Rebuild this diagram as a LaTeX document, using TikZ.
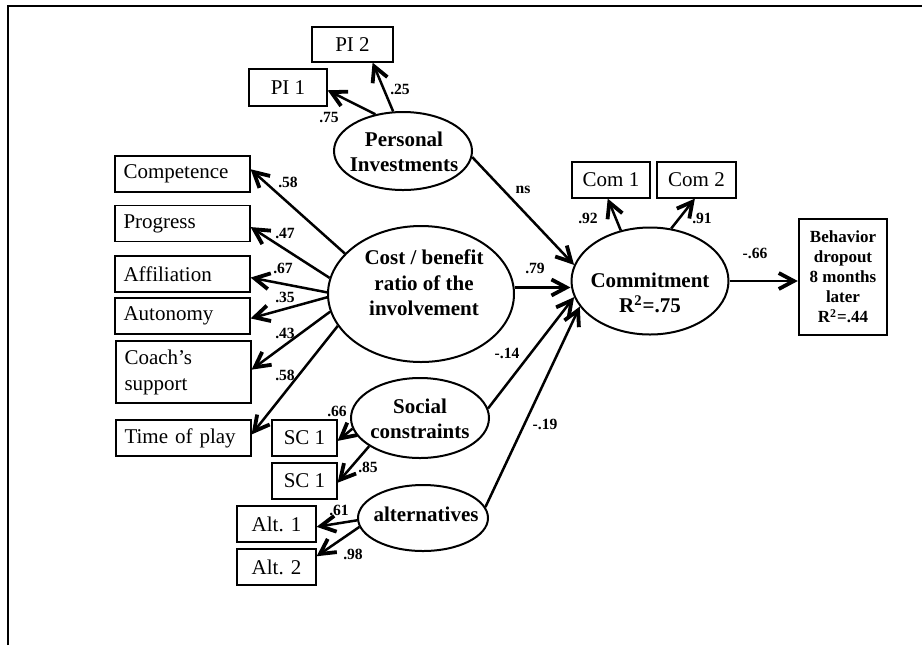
\documentclass[tikz,border=0pt]{standalone}
\usepackage{fontspec}
\setmainfont{Liberation Serif}
\usetikzlibrary{arrows.meta,shapes.geometric}

\begin{document}
\begin{tikzpicture}[x=0.5pt,y=-0.5pt,
  box/.style={draw, line width=0.6pt, inner sep=0pt, minimum height=18pt,
    align=center, font=\fontsize{10.5}{13}\selectfont},
  leftbox/.style={box, align=left, inner xsep=4.2pt, text width=59pt, minimum width=67.5pt},
  latent/.style={draw, ellipse, line width=1pt, inner sep=0pt},
  lattext/.style={align=center, inner sep=0pt, font=\fontsize{10.5}{12.8}\selectfont\bfseries},
  coef/.style={inner sep=0pt, font=\fontsize{7.8}{9}\selectfont\bfseries},
  arr/.style={line width=1.25pt, -{Straight Barb[length=7.5pt,width=8pt,line width=1.9pt]}},
]
\useasboundingbox (0,0) rectangle (922,645);

% frame
\draw[line width=1pt] (8,645) -- (8,6) -- (922,6);

% latent variables
\node[latent, minimum width=69pt, minimum height=39pt] (pi) at (403,151) {};
\node[latent, minimum width=93pt, minimum height=68pt] (cost) at (421,294) {};
\node[latent, minimum width=78.5pt, minimum height=53.5pt] (com) at (650,281) {};
\node[latent, minimum width=69pt, minimum height=40pt] (soc) at (420,418) {};
\node[latent, minimum width=65pt, minimum height=33pt] (alt) at (423,518) {};

\node[lattext] (pitext) at (404,152) {Personal\\Investments};
\node[lattext] (costtext) at (424,283) {Cost / benefit\\ratio of the\\involvement};
\node[lattext] (comtext) at (650,293) {Commitment\\R\textsuperscript{2}=.75};
\node[lattext] (soctext) at (420,419) {Social\\constraints};
\node[lattext] (alttext) at (426,514) {alternatives};

% indicators
\node[box, minimum width=40.5pt, minimum height=17.5pt] (pi2) at (352.5,44.5) {PI 2};
\node[box, minimum width=39pt, minimum height=18.5pt] (pi1) at (288,87.5) {PI 1};
\node[leftbox] (comp) at (182.5,174) {Competence};
\node[leftbox] (prog) at (182.5,223.5) {Progress};
\node[leftbox] (aff) at (182.5,274) {Affiliation};
\node[leftbox] (auto) at (182.5,316) {Autonomy};
\node[leftbox, minimum height=31pt] (coach) at (183.5,372) {Coach’s\\support};
\node[leftbox] (time) at (183.5,438) {Time of play};
\node[box, minimum width=32.5pt] (sca) at (304.5,438) {SC 1};
\node[box, minimum width=32.5pt] (scb) at (304.5,481) {SC 1};
\node[box, minimum width=39.5pt] (alta) at (276.5,524) {Alt. 1};
\node[box, minimum width=39.5pt] (altb) at (276.5,567) {Alt. 2};
\node[box, minimum width=39pt] (com1) at (611,180) {Com 1};
\node[box, minimum width=39.5pt] (com2) at (696.5,180) {Com 2};

% outcome
\node[draw, line width=1.2pt, minimum width=44pt, minimum height=58pt, inner sep=0pt,
  align=center, font=\fontsize{8.5}{10}\selectfont\bfseries] (beh) at (843,277)
  {Behavior\\dropout\\8 months\\later\\R\textsuperscript{2}=.44};

% loadings
\draw[arr] (pi.104) -- (pi2.-42);
\draw[arr] (pi.127) -- (pi1.-4);
\draw[arr] (cost.152) -- (comp.4);
\draw[arr] (cost.170) -- (prog.-3);
\draw[arr] (cost.179) -- (aff.-3);
\draw[arr] (cost.182) -- (auto.-2);
\draw[arr] (cost.191) -- (coach.2);
\draw[arr] (cost.201) -- (time.3);
\draw[arr] (soc.189) -- (sca.-5);
\draw[arr] (soc.209) -- (scb.-3);
\draw[arr] (alt.182) -- (alta.-4);
\draw[arr] (alt.188) -- (altb.15);
\draw[arr] (com.120) -- (com1.-100);
\draw[arr] (com.68) -- (com2.-95);

% structural paths
\draw[arr] (pi.-5) -- (com.168);
\draw[arr] (cost.4) -- (cost.4 -| com.west);
\draw[arr] (soc.8) -- (com.192);
\draw[arr] (alt.10) -- (com.200);
\draw[arr] (com.east) -- (com.east -| beh.west);

% coefficients
\node[coef] (k1) at (400,89) {.25};
\node[coef] (k2) at (329,117) {.75};
\node[coef] (k3) at (523,190) {ns};
\node[coef] (k4) at (535,268) {.79};
\node[coef] (k5) at (507,353) {-.14};
\node[coef] (k6) at (545,424) {-.19};
\node[coef] (k7) at (288,182) {.58};
\node[coef] (k8) at (285,233) {.47};
\node[coef] (k9) at (283,268) {.67};
\node[coef] (k10) at (285,297) {.35};
\node[coef] (k11) at (285,333) {.43};
\node[coef] (k12) at (285,375) {.58};
\node[coef] (k13) at (337,411) {.66};
\node[coef] (k14) at (368,467) {.85};
\node[coef] (k15) at (339,510) {.61};
\node[coef] (k16) at (353,554) {.98};
\node[coef] (k17) at (588,218) {.92};
\node[coef] (k18) at (702,218) {.91};
\node[coef] (k19) at (755,253) {-.66};
\end{tikzpicture}
\end{document}
